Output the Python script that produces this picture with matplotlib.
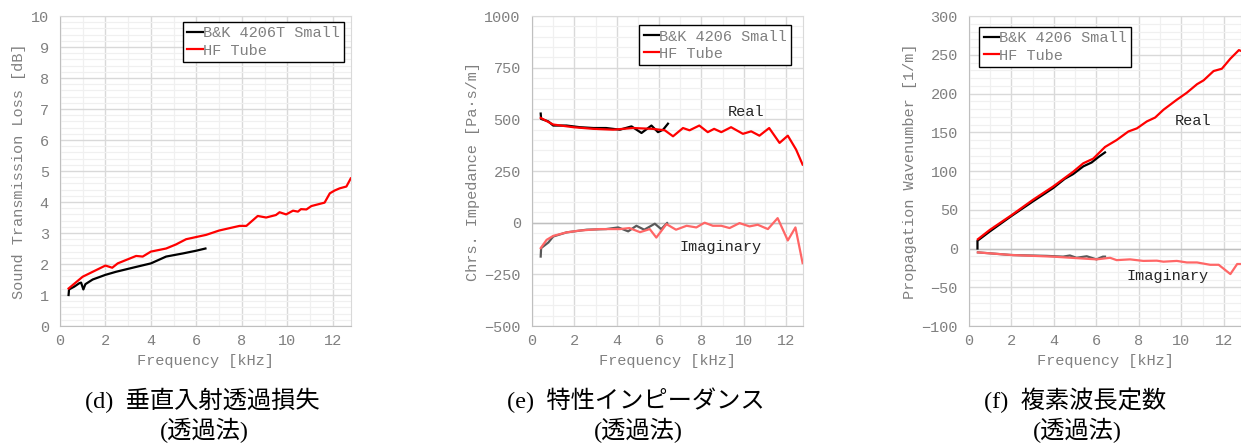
import numpy as np
import matplotlib
matplotlib.use('Agg')
import matplotlib.pyplot as plt
from matplotlib.ticker import MultipleLocator

plt.rcParams['font.family'] = ['Liberation Mono', 'DejaVu Sans']

# (d) sound transmission loss [dB]
stl_bk_f = [0.38, 0.40, 0.63, 0.85, 0.93, 1.03, 1.12, 1.44, 2.0, 2.47, 3.2, 4.0, 4.67, 5.4, 6.0, 6.4]
stl_bk = [1.0, 1.18, 1.27, 1.38, 1.40, 1.18, 1.35, 1.50, 1.65, 1.75, 1.88, 2.02, 2.24, 2.34, 2.43, 2.50]
stl_hf_f = [0.38, 1.0, 2.0, 2.3, 2.54, 3.35, 3.64, 4.0, 4.67, 5.1, 5.55, 6.43, 7.0, 7.9, 8.2, 8.7,
            9.07, 9.5, 9.66, 9.95, 10.25, 10.47, 10.6, 10.84, 11.06, 11.64, 11.87, 12.08, 12.3, 12.6, 12.79]
stl_hf = [1.21, 1.59, 1.95, 1.88, 2.02, 2.26, 2.24, 2.40, 2.50, 2.63, 2.80, 2.94, 3.08, 3.23, 3.23, 3.55,
          3.50, 3.58, 3.67, 3.60, 3.72, 3.69, 3.77, 3.76, 3.87, 3.98, 4.28, 4.37, 4.44, 4.50, 4.76]

# (e) characteristic impedance [Pa s/m]
z_bk_f = [0.41, 0.43, 0.77, 1.0, 1.63, 2.26, 2.9, 3.5, 4.15, 4.7, 5.17, 5.64, 5.95, 6.19, 6.42]
z_bk_re = [528, 502, 490, 470, 470, 462, 458, 458, 450, 466, 434, 470, 438, 450, 479]
z_bk_im_f = [0.41, 0.43, 0.77, 1.0, 1.63, 2.58, 3.5, 4.07, 4.54, 4.93, 5.3, 5.8, 6.1, 6.38]
z_bk_im = [-164, -123, -96, -67, -47, -34, -31, -23, -42, -15, -34, -5, -31, -2]
z_hf_f = [0.41, 1.0, 1.95, 2.9, 3.83, 4.77, 5.7, 6.27, 6.66, 7.13, 7.44, 7.9, 8.3, 8.6, 8.94, 9.4,
          9.96, 10.35, 10.74, 11.2, 11.69, 12.08, 12.47, 12.78]
z_hf_re = [507, 475, 462, 454, 450, 458, 454, 447, 418, 458, 447, 470, 438, 454, 438, 462,
           430, 442, 421, 458, 386, 421, 354, 281]
z_hf_im_f = [0.41, 0.69, 1.0, 1.63, 2.26, 3.2, 4.15, 4.6, 5.1, 5.56, 5.87, 6.35, 6.8, 7.3, 7.76, 8.15,
             8.54, 8.94, 9.33, 9.8, 10.27, 10.66, 11.14, 11.6, 12.08, 12.44, 12.78]
z_hf_im = [-123, -83, -64, -47, -38, -31, -31, -26, -46, -31, -72, -7, -34, -15, -23, 0,
           -15, -15, -26, -2, -18, -10, -31, 22, -86, -23, -196]

# (f) complex wavenumber [1/m]
k_bk_f = [0.40, 0.40, 0.98, 2.0, 3.02, 3.96, 4.51, 4.9, 5.38, 5.77, 6.09, 6.4]
k_bk_re = [0, 10, 22, 42, 61, 78, 90, 96, 106, 111, 118, 124]
k_bk_im_f = [0.42, 2.0, 3.65, 4.43, 4.75, 5.06, 5.54, 6.0, 6.3, 6.4]
k_bk_im = [-5, -8.4, -9.5, -10.5, -9, -12, -10, -14, -10.5, -10.5]
k_hf_f = [0.42, 0.98, 2.0, 3.02, 3.96, 4.9, 5.38, 5.85, 6.4, 6.95, 7.5, 7.9, 8.37, 8.76, 9.15, 9.78,
          10.25, 10.73, 11.04, 11.51, 11.9, 12.3, 12.7, 12.8]
k_hf_re = [12, 24, 43, 63, 80, 99, 110, 116, 131, 140, 151, 155, 164, 169, 179, 192,
           201, 212, 217, 229, 232, 245, 256, 255]
k_hf_im_f = [0.42, 2.0, 3.96, 5.22, 6.0, 6.64, 6.95, 7.58, 8.2, 8.84, 9.15, 9.78, 10.25, 10.73,
             11.35, 11.75, 12.3, 12.62, 12.8]
k_hf_im = [-5, -8.4, -10.5, -12.7, -14, -12, -15, -14, -16, -15.7, -17, -16, -18, -18,
           -21, -21, -33, -20, -20]

GRAY = '#808080'


def style_axes(ax, ylim, ymajor, yminor, ylabel):
    ax.set_xlim(0, 12.8)
    ax.set_ylim(*ylim)
    ax.xaxis.set_major_locator(MultipleLocator(2))
    ax.xaxis.set_minor_locator(MultipleLocator(1))
    ax.yaxis.set_major_locator(MultipleLocator(ymajor))
    ax.yaxis.set_minor_locator(MultipleLocator(yminor))
    ax.grid(which='major', color='#d9d9d9', lw=1.0)
    ax.grid(which='minor', color='#f0f0f0', lw=0.9)
    ax.set_axisbelow(True)
    ax.tick_params(which='both', length=0, colors=GRAY, labelsize=11)
    ax.tick_params(axis='y', pad=8)
    ax.tick_params(axis='x', pad=6)
    for s in ax.spines.values():
        s.set_color('#d9d9d9')
    ax.spines['left'].set_color('#bfbfbf')
    ax.spines['bottom'].set_color('#bfbfbf')
    ax.set_xlabel('Frequency [kHz]', color=GRAY, fontsize=11, labelpad=4)
    ax.set_ylabel(ylabel, color=GRAY, fontsize=11, labelpad=3)


def add_legend(ax, handles, labels, loc, anchor):
    leg = ax.legend(handles, labels, loc=loc, bbox_to_anchor=anchor, borderaxespad=0,
                    fontsize=11, handlelength=1.0, handletextpad=0.0,
                    fancybox=False, framealpha=1, edgecolor='black',
                    borderpad=0.3, labelspacing=0.2)
    leg.get_frame().set_linewidth(1.0)
    for t in leg.get_texts():
        t.set_color(GRAY)


fig = plt.figure(figsize=(12.41, 4.45), dpi=100)
bottom, height = 0.2674, 0.6966
ax_d = fig.add_axes([0.0483, bottom, 0.2345, height])
ax_e = fig.add_axes([0.4287, bottom, 0.2184, height])
ax_f = fig.add_axes([0.7808, bottom, 0.2192, height])

# (d)
l1, = ax_d.plot(stl_bk_f, stl_bk, color='black', lw=1.6)
l2, = ax_d.plot(stl_hf_f, stl_hf, color='red', lw=1.6)
style_axes(ax_d, (0, 10), 1, 0.2, 'Sound Transmission Loss [dB]')
add_legend(ax_d, [l1, l2], ['B&K 4206T Small', 'HF Tube'], 'upper right', (0.976, 0.981))

# (e)
ax_e.axhline(0, color='#bfbfbf', lw=1.0, zorder=1)
l1, = ax_e.plot(z_bk_f, z_bk_re, color='black', lw=1.6)
l2, = ax_e.plot(z_hf_f, z_hf_re, color='red', lw=1.6)
ax_e.plot(z_bk_im_f, z_bk_im, color='#595959', lw=1.6)
ax_e.plot(z_hf_im_f, z_hf_im, color='#ff6666', lw=1.6)
style_axes(ax_e, (-500, 1000), 250, 50, 'Chrs. Impedance [Pa·s/m]')
add_legend(ax_e, [l1, l2], ['B&K 4206 Small', 'HF Tube'], 'upper right', (0.956, 0.971))
ax_e.text(9.25, 534, 'Real', fontsize=11, color='#262626', va='center')
ax_e.text(6.97, -116, 'Imaginary', fontsize=11, color='#262626', va='center')

# (f)
ax_f.axhline(0, color='#bfbfbf', lw=1.0, zorder=1)
l1, = ax_f.plot(k_bk_f, k_bk_re, color='black', lw=1.6)
l2, = ax_f.plot(k_hf_f, k_hf_re, color='red', lw=1.6)
ax_f.plot(k_bk_im_f, k_bk_im, color='#595959', lw=1.6)
ax_f.plot(k_hf_im_f, k_hf_im, color='#ff6666', lw=1.6)
style_axes(ax_f, (-100, 300), 50, 10, 'Propagation Wavenumber [1/m]')
add_legend(ax_f, [l1, l2], ['B&K 4206 Small', 'HF Tube'], 'upper left', (0.037, 0.965))
ax_f.text(9.67, 164, 'Real', fontsize=11, color='#262626', va='center')
ax_f.text(7.42, -36, 'Imaginary', fontsize=11, color='#262626', va='center')

# captions under each panel
cap_font = ['Liberation Serif', 'Noto Sans CJK JP']
captions = [('(d)  垂直入射透過損失', 202), ('(e)  特性インピーダンス', 636), ('(f)  複素波長定数', 1075)]
for txt, xc in captions:
    fig.text(xc / 1241, 1 - 400 / 445, txt, ha='center', va='center', fontsize=17.5,
             family=cap_font, color='black')
    fig.text(xc / 1241 + 0.002, 1 - 430 / 445, '(透過法)', ha='center', va='center', fontsize=17.5,
             family=cap_font, color='black')

fig.savefig('out.png', dpi=100)
